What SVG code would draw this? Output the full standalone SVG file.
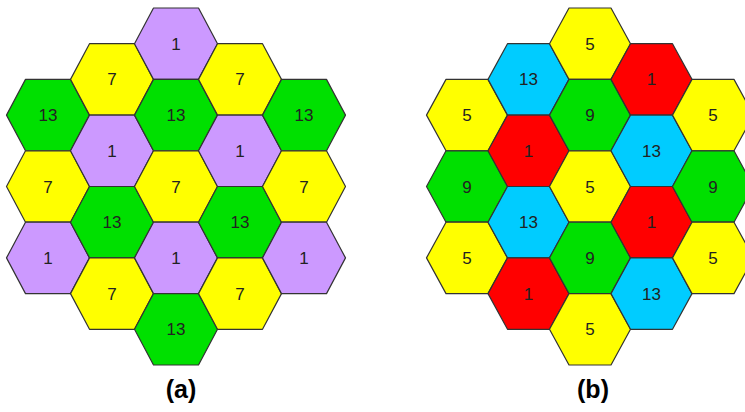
<svg xmlns="http://www.w3.org/2000/svg" xmlns:xlink="http://www.w3.org/1999/xlink" width="745" height="412" viewBox="0 0 745 412">
<style>
  .h { stroke: #333; stroke-width: 1.2; stroke-linejoin: round; }
  .p { fill: #cc99ff; }
  .y { fill: #ffff00; }
  .g { fill: #00e000; }
  .c { fill: #00ccff; }
  .r { fill: #ff0000; }
  .t { font-family: "Liberation Sans", Arial, sans-serif; font-size: 17px; fill: #222; text-anchor: middle; }
  .lbl { font-family: "Liberation Sans", Arial, sans-serif; font-size: 25px; font-weight: bold; fill: #000; text-anchor: middle; }
</style>
<defs>
  <polygon id="hA" points="-41.5,0 -22.5,-35.7 22.5,-35.7 41.5,0 22.5,35.7 -22.5,35.7"/>
  <polygon id="hB" points="-40.5,0 -21,-35.7 21,-35.7 40.5,0 21,35.7 -21,35.7"/>
</defs>
<rect width="745" height="412" fill="#fff"/>
<g id="clusterA">
  <g id="a-48-115" transform="translate(48,115.1)"><use href="#hA" class="h g"/><text class="t" y="6">13</text></g>
  <g id="a-48-186" transform="translate(48,186.5)"><use href="#hA" class="h y"/><text class="t" y="6">7</text></g>
  <g id="a-48-258" transform="translate(48,257.9)"><use href="#hA" class="h p"/><text class="t" y="6">1</text></g>
  <g id="a-112-79" transform="translate(112,79.4)"><use href="#hA" class="h y"/><text class="t" y="6">7</text></g>
  <g id="a-112-151" transform="translate(112,150.8)"><use href="#hA" class="h p"/><text class="t" y="6">1</text></g>
  <g id="a-112-222" transform="translate(112,222.2)"><use href="#hA" class="h g"/><text class="t" y="6">13</text></g>
  <g id="a-112-294" transform="translate(112,293.6)"><use href="#hA" class="h y"/><text class="t" y="6">7</text></g>
  <g id="a-176-44" transform="translate(176,43.7)"><use href="#hA" class="h p"/><text class="t" y="6">1</text></g>
  <g id="a-176-115" transform="translate(176,115.1)"><use href="#hA" class="h g"/><text class="t" y="6">13</text></g>
  <g id="a-176-186" transform="translate(176,186.5)"><use href="#hA" class="h y"/><text class="t" y="6">7</text></g>
  <g id="a-176-258" transform="translate(176,257.9)"><use href="#hA" class="h p"/><text class="t" y="6">1</text></g>
  <g id="a-176-329" transform="translate(176,329.3)"><use href="#hA" class="h g"/><text class="t" y="6">13</text></g>
  <g id="a-240-79" transform="translate(240,79.4)"><use href="#hA" class="h y"/><text class="t" y="6">7</text></g>
  <g id="a-240-151" transform="translate(240,150.8)"><use href="#hA" class="h p"/><text class="t" y="6">1</text></g>
  <g id="a-240-222" transform="translate(240,222.2)"><use href="#hA" class="h g"/><text class="t" y="6">13</text></g>
  <g id="a-240-294" transform="translate(240,293.6)"><use href="#hA" class="h y"/><text class="t" y="6">7</text></g>
  <g id="a-304-115" transform="translate(304,115.1)"><use href="#hA" class="h g"/><text class="t" y="6">13</text></g>
  <g id="a-304-186" transform="translate(304,186.5)"><use href="#hA" class="h y"/><text class="t" y="6">7</text></g>
  <g id="a-304-258" transform="translate(304,257.9)"><use href="#hA" class="h p"/><text class="t" y="6">1</text></g>
</g>
<g id="clusterB">
  <g id="b-467-115" transform="translate(467,115.1)"><use href="#hB" class="h y"/><text class="t" y="6">5</text></g>
  <g id="b-467-186" transform="translate(467,186.5)"><use href="#hB" class="h g"/><text class="t" y="6">9</text></g>
  <g id="b-467-258" transform="translate(467,257.9)"><use href="#hB" class="h y"/><text class="t" y="6">5</text></g>
  <g id="b-528-79" transform="translate(528.5,79.4)"><use href="#hB" class="h c"/><text class="t" y="6">13</text></g>
  <g id="b-528-151" transform="translate(528.5,150.8)"><use href="#hB" class="h r"/><text class="t" y="6">1</text></g>
  <g id="b-528-222" transform="translate(528.5,222.2)"><use href="#hB" class="h c"/><text class="t" y="6">13</text></g>
  <g id="b-528-294" transform="translate(528.5,293.6)"><use href="#hB" class="h r"/><text class="t" y="6">1</text></g>
  <g id="b-590-44" transform="translate(590,43.7)"><use href="#hB" class="h y"/><text class="t" y="6">5</text></g>
  <g id="b-590-115" transform="translate(590,115.1)"><use href="#hB" class="h g"/><text class="t" y="6">9</text></g>
  <g id="b-590-186" transform="translate(590,186.5)"><use href="#hB" class="h y"/><text class="t" y="6">5</text></g>
  <g id="b-590-258" transform="translate(590,257.9)"><use href="#hB" class="h g"/><text class="t" y="6">9</text></g>
  <g id="b-590-329" transform="translate(590,329.3)"><use href="#hB" class="h y"/><text class="t" y="6">5</text></g>
  <g id="b-651-79" transform="translate(651.5,79.4)"><use href="#hB" class="h r"/><text class="t" y="6">1</text></g>
  <g id="b-651-151" transform="translate(651.5,150.8)"><use href="#hB" class="h c"/><text class="t" y="6">13</text></g>
  <g id="b-651-222" transform="translate(651.5,222.2)"><use href="#hB" class="h r"/><text class="t" y="6">1</text></g>
  <g id="b-651-294" transform="translate(651.5,293.6)"><use href="#hB" class="h c"/><text class="t" y="6">13</text></g>
  <g id="b-713-115" transform="translate(713,115.1)"><use href="#hB" class="h y"/><text class="t" y="6">5</text></g>
  <g id="b-713-186" transform="translate(713,186.5)"><use href="#hB" class="h g"/><text class="t" y="6">9</text></g>
  <g id="b-713-258" transform="translate(713,257.9)"><use href="#hB" class="h y"/><text class="t" y="6">5</text></g>
</g>
<g id="labels">
  <text class="lbl" x="181" y="398">(a)</text>
  <text class="lbl" x="593" y="398">(b)</text>
</g>
</svg>
